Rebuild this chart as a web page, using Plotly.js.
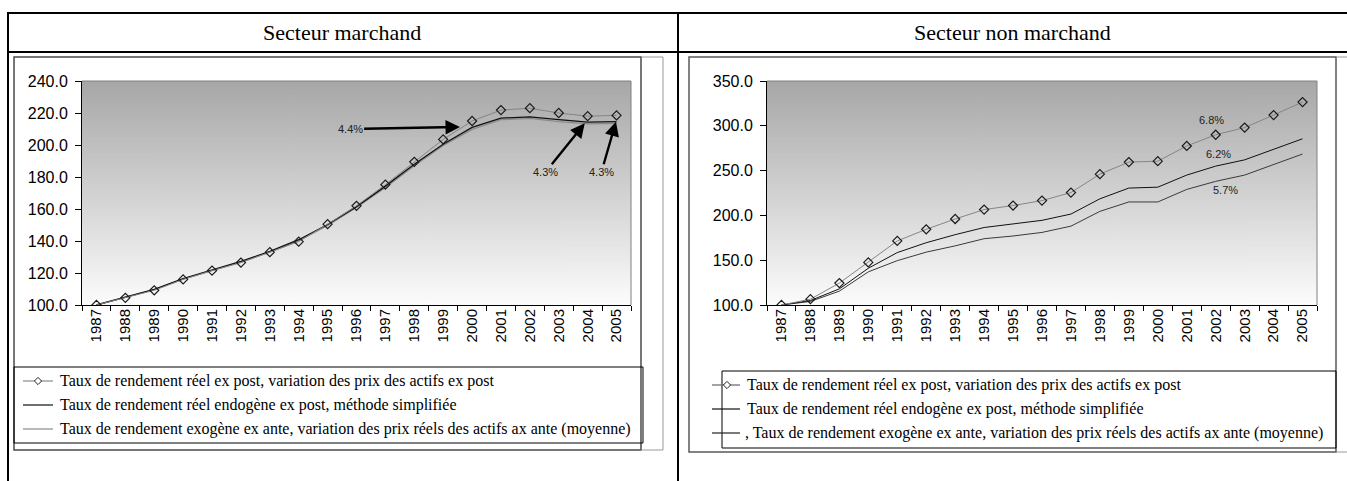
<!DOCTYPE html>
<html>
<head>
<meta charset="utf-8">
<script src="https://cdn.plot.ly/plotly-3.0.1.min.js"></script>
<style>
  html, body { margin: 0; padding: 0; background: #fff; }
  #chart { width: 1347px; height: 481px; }
</style>
</head>
<body>
<div id="chart"></div>
<script>
// Years shared by both panels
const years = ['1987','1988','1989','1990','1991','1992','1993','1994','1995','1996',
               '1997','1998','1999','2000','2001','2002','2003','2004','2005'];

// Secteur marchand (index 1987 = 100)
const marchandExPost   = [100, 104.5, 109.2, 116, 121.5, 126.5, 133, 139.6, 150.5, 162,
                          175.2, 189.5, 203.5, 215, 221.8, 223, 220, 218, 218.5];
const marchandEndogene = [100, 104.8, 109.8, 116.5, 122, 127.2, 133.5, 140.8, 150.3, 161.5,
                          174.3, 188, 200.5, 211, 216.8, 217.6, 215.8, 214.3, 214.6];
const marchandExogene  = [100, 104.6, 109.6, 116.2, 121.7, 126.8, 133.1, 140.2, 149.8, 161,
                          173.5, 187, 199.7, 209.8, 215.8, 216.6, 214.6, 213.2, 213.5];

// Secteur non marchand (index 1987 = 100)
const nonMarchandExPost   = [100, 106.5, 124.5, 147.5, 171.5, 184.5, 196, 206.5, 211, 216.5,
                             225.5, 246, 259.5, 260.5, 277.5, 290, 298, 312, 326.5];
const nonMarchandEndogene = [100, 105, 118, 141, 158.5, 169.5, 178.5, 186.5, 190.5, 194.5,
                             201.5, 218.5, 230.5, 231.5, 245, 255, 262, 273.5, 285.5];
const nonMarchandExogene  = [100, 104, 115.5, 137, 149.5, 159, 166, 174, 177, 181,
                             188, 204.5, 215, 215, 229, 238, 245, 256.5, 268.5];

// Legend texts and annotation labels
const legendMarchand = [
  'Taux de rendement réel ex post, variation des prix des actifs ex post',
  'Taux de rendement réel endogène ex post, méthode simplifiée',
  'Taux de rendement exogène ex ante, variation des prix réels des actifs ax ante (moyenne)'
];
const legendNonMarchand = [
  'Taux de rendement réel ex post, variation des prix des actifs ex post',
  'Taux de rendement réel endogène ex post, méthode simplifiée',
  ', Taux de rendement exogène ex ante, variation des prix réels des actifs ax ante (moyenne)'
];
const panelTitles = ['Secteur marchand', 'Secteur non marchand'];
const rateMarchand = ['4.4%', '4.3%', '4.3%'];
const rateNonMarchand = ['6.8%', '6.2%', '5.7%'];

// ---- page geometry helpers (pixels -> paper fractions) ----
const W = 1347, H = 481;
const px = x => x / W;
const py = y => 1 - y / H;

// vertical grey gradient used behind both plot areas
function gradientImage() {
  const c = document.createElement('canvas');
  c.width = 4; c.height = 256;
  const g = c.getContext('2d');
  const grad = g.createLinearGradient(0, 0, 0, 256);
  grad.addColorStop(0, '#a7a7a7');
  grad.addColorStop(1, '#fcfcfc');
  g.fillStyle = grad;
  g.fillRect(0, 0, 4, 256);
  return c.toDataURL('image/png');
}
const grad = gradientImage();

const SANS = 'Liberation Sans, Arial, sans-serif';
const SERIF = 'Liberation Serif, Times New Roman, serif';

const diamondMarker = { symbol: 'diamond-open', size: 7, color: '#1a1a1a', line: { width: 1.2, color: '#1a1a1a' } };

const traces = [
  { x: years, y: marchandExogene, xaxis: 'x', yaxis: 'y', mode: 'lines',
    line: { color: '#8a8a8a', width: 1.3 }, name: legendMarchand[2] },
  { x: years, y: marchandEndogene, xaxis: 'x', yaxis: 'y', mode: 'lines',
    line: { color: '#111111', width: 1.3 }, name: legendMarchand[1] },
  { x: years, y: marchandExPost, xaxis: 'x', yaxis: 'y', mode: 'lines+markers',
    line: { color: '#858585', width: 1 }, marker: diamondMarker, name: legendMarchand[0] },

  { x: years, y: nonMarchandExogene, xaxis: 'x2', yaxis: 'y2', mode: 'lines',
    line: { color: '#3a3a3a', width: 1 }, name: legendNonMarchand[2] },
  { x: years, y: nonMarchandEndogene, xaxis: 'x2', yaxis: 'y2', mode: 'lines',
    line: { color: '#111111', width: 1 }, name: legendNonMarchand[1] },
  { x: years, y: nonMarchandExPost, xaxis: 'x2', yaxis: 'y2', mode: 'lines+markers',
    line: { color: '#858585', width: 1 }, marker: diamondMarker, name: legendNonMarchand[0] }
];

// plot areas in pixels
const leftPlot  = { x0: 82,  x1: 631,  y0: 81, y1: 305 };
const rightPlot = { x0: 767, x1: 1317, y0: 81, y1: 305 };

function xAxis(p, anchor) {
  return {
    type: 'category', categoryorder: 'array', categoryarray: years,
    range: [-0.5, years.length - 0.5], domain: [px(p.x0), px(p.x1)], anchor: anchor,
    showline: true, linecolor: '#000', linewidth: 1, mirror: false,
    ticks: 'outside', tickson: 'boundaries', ticklen: 5, tickcolor: '#000', tickwidth: 1,
    tickangle: -90, tickfont: { family: SANS, size: 15, color: '#000' },
    showgrid: false, zeroline: false, fixedrange: true, ticklabelstandoff: -3
  };
}
function yAxis(p, anchor, range, dtick) {
  return {
    range: range, dtick: dtick, tick0: range[0], tickformat: '.1f',
    domain: [py(p.y1), py(p.y0)], anchor: anchor,
    showline: true, linecolor: '#000', linewidth: 1,
    ticks: 'outside', ticklen: 6, tickcolor: '#000', tickwidth: 1,
    tickfont: { family: SANS, size: 16, color: '#000' },
    showgrid: false, zeroline: false, fixedrange: true, ticklabelstandoff: 4
  };
}

const shapes = [];
function line(x0, y0, x1, y1, color, width) {
  shapes.push({ type: 'line', xref: 'paper', yref: 'paper',
    x0: px(x0), y0: py(y0), x1: px(x1), y1: py(y1), line: { color: color, width: width } });
}
function rect(x0, y0, x1, y1, color, width) {
  shapes.push({ type: 'rect', xref: 'paper', yref: 'paper',
    x0: px(x0), y0: py(y0), x1: px(x1), y1: py(y1), line: { color: color, width: width } });
}
function diamond(cx, cy, r) {
  const pts = [[cx, cy - r], [cx + r, cy], [cx, cy + r], [cx - r, cy]];
  const path = 'M' + pts.map(p => px(p[0]) + ',' + py(p[1])).join(' L') + ' Z';
  shapes.push({ type: 'path', xref: 'paper', yref: 'paper', path: path,
    fillcolor: '#fff', line: { color: '#222', width: 1 } });
}

// table grid
line(7, 13, 1347, 13, '#000', 2);
line(7, 52, 1347, 52, '#000', 2);
line(8, 13, 8, 481, '#000', 2);
line(678, 13, 678, 481, '#000', 2);

// chart frames
rect(14, 57, 641, 450, '#4a4a4a', 1.5);
line(641, 57, 663, 57, '#9a9a9a', 1);
line(663, 57, 663, 450, '#9a9a9a', 1);
line(641, 450, 663, 450, '#9a9a9a', 1);

rect(689, 57, 1336, 452, '#5a5a5a', 1.5);
line(1336, 57, 1347, 57, '#9a9a9a', 1);
line(1336, 452, 1347, 452, '#9a9a9a', 1);

// plot area top/right borders
[leftPlot, rightPlot].forEach(p => {
  line(p.x0, p.y0, p.x1, p.y0, '#808080', 1);
  line(p.x1, p.y0, p.x1, p.y1, '#808080', 1);
});

// legend boxes
rect(14, 367, 643, 443, '#000', 1);
rect(722, 371, 1336, 448, '#000', 1);

const annotations = [];
function text(x, y, t, font, anchor) {
  annotations.push({ xref: 'paper', yref: 'paper', x: px(x), y: py(y), text: t,
    showarrow: false, xanchor: anchor || 'center', yanchor: 'middle', font: font });
}

// panel titles
text(342, 32, panelTitles[0], { family: SERIF, size: 22, color: '#000' });
text(1012, 32, panelTitles[1], { family: SERIF, size: 22, color: '#000' });

// legends
const legFont = { family: SERIF, size: 16, color: '#000' };
const leftRows = [381, 405, 429];
const leftLineColors = ['#8a8a8a', '#111', '#8a8a8a'];
leftRows.forEach((y, i) => {
  line(23, y, 53, y, leftLineColors[i], 1.2);
  if (i === 0) diamond(38, y, 3.6);
  text(58, y, legendMarchand[i], legFont, 'left');
});
const rightRows = [385, 409, 433];
const rightLineColors = ['#666', '#111', '#222'];
rightRows.forEach((y, i) => {
  line(712, y, 740, y, rightLineColors[i], 1.2);
  if (i === 0) diamond(727, y, 3.6);
  text(i === 2 ? 743 : 745, y, legendNonMarchand[i], legFont, 'left');
});

// growth-rate labels with arrows (Secteur marchand)
const arrowFont = { family: SANS, size: 11, color: '#222' };
const arrowCommon = { xref: 'x', yref: 'y', axref: 'x', ayref: 'y', showarrow: true,
  arrowhead: 2, arrowsize: 1.2, arrowwidth: 2.4, arrowcolor: '#000', standoff: 0, font: arrowFont };
annotations.push(Object.assign({}, arrowCommon, { text: rateMarchand[0], x: 12.58, y: 211.3, ax: 8.78, ay: 210 }));
annotations.push(Object.assign({}, arrowCommon, { text: rateMarchand[1], x: 16.9, y: 213.6, ax: 15.55, ay: 183.3 }));
annotations.push(Object.assign({}, arrowCommon, { text: rateMarchand[2], x: 17.98, y: 214.6, ax: 17.48, ay: 183.3 }));

// growth-rate labels (Secteur non marchand)
[[14.84, 306.3], [15.11, 268.6], [15.33, 228.6]].forEach((p, i) => {
  annotations.push({ xref: 'x2', yref: 'y2', x: p[0], y: p[1], text: rateNonMarchand[i],
    showarrow: false, font: arrowFont });
});

const images = [leftPlot, rightPlot].map(p => ({
  source: grad, xref: 'paper', yref: 'paper',
  x: px(p.x0), y: py(p.y0), sizex: px(p.x1) - px(p.x0), sizey: (p.y1 - p.y0) / H,
  xanchor: 'left', yanchor: 'top', sizing: 'stretch', layer: 'below'
}));

const layout = {
  width: W, height: H,
  margin: { l: 0, r: 0, t: 0, b: 0, pad: 0 },
  paper_bgcolor: '#fff', plot_bgcolor: 'rgba(0,0,0,0)',
  showlegend: false,
  xaxis: xAxis(leftPlot, 'y'),
  yaxis: yAxis(leftPlot, 'x', [100, 240], 20),
  xaxis2: xAxis(rightPlot, 'y2'),
  yaxis2: yAxis(rightPlot, 'x2', [100, 350], 50),
  shapes: shapes, annotations: annotations, images: images
};

Plotly.newPlot('chart', traces, layout, { staticPlot: true, displayModeBar: false });
</script>
</body>
</html>
